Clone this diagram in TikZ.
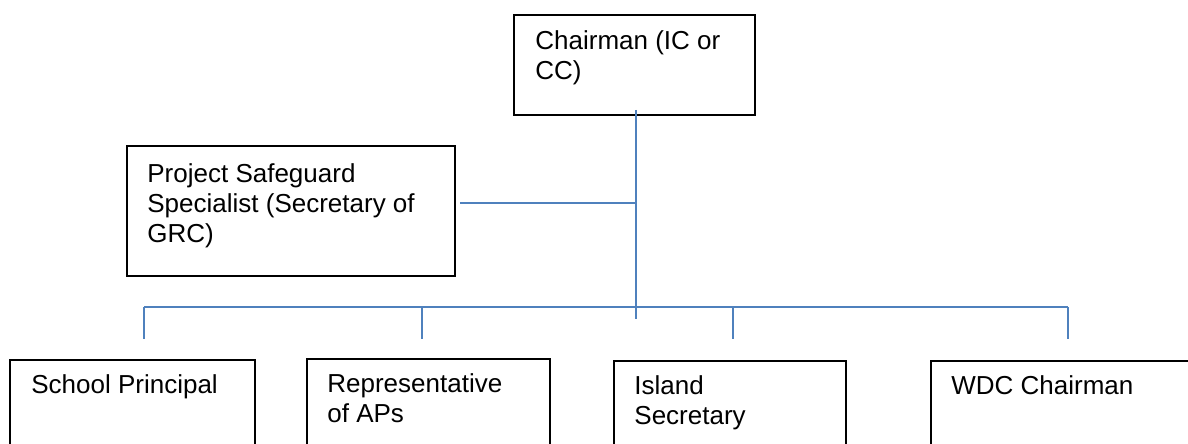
\documentclass[tikz,border=0pt]{standalone}
\usepackage{fontspec}
\setmainfont{Liberation Sans}
\usetikzlibrary{positioning}
\definecolor{linkblue}{RGB}{79,129,189}

\begin{document}
\begin{tikzpicture}[x=0.5pt,y=-0.5pt]
\tikzset{orgbox/.style={draw=black, line width=1pt, anchor=north west, inner sep=0pt},
         orgtext/.style={anchor=base west, align=left, inner sep=0pt,
                         font=\fontsize{13}{15}\selectfont},
         orgline/.style={draw=linkblue, line width=0.75pt}}
\useasboundingbox (0,0) rectangle (1188,444);

% boxes
\node[orgbox, minimum width=120.5pt, minimum height=50pt] (chair) at (513,14) {};
\node[orgbox, minimum width=164pt, minimum height=65pt] (proj) at (126,145) {};
\node[orgbox, minimum width=122.5pt, minimum height=60pt] (school) at (9,359) {};
\node[orgbox, minimum width=121.5pt, minimum height=60pt] (rep) at (306,358) {};
\node[orgbox, minimum width=116pt, minimum height=60pt] (island) at (613,360) {};
\node[orgbox, minimum width=150pt, minimum height=60pt] (wdc) at (930,360) {};

% texts (base = last line)
\node[orgtext] (chair-t) at ([shift={(22,66)}]chair.north west) {Chairman (IC or\\CC)};
\node[orgtext] (proj-t) at ([shift={(21,97)}]proj.north west) {Project Safeguard\\Specialist (Secretary of\\GRC)};
\node[orgtext] (school-t) at ([shift={(22,34)}]school.north west) {School Principal};
\node[orgtext] (rep-t) at ([shift={(21,64)}]rep.north west) {Representative\\of APs};
\node[orgtext] (island-t) at ([shift={(21,64)}]island.north west) {Island\\Secretary};
\node[orgtext] (wdc-t) at ([shift={(21,34)}]wdc.north west) {WDC Chairman};

% connectors
\coordinate (hub) at (636,319);
\coordinate (tee) at (636,203);
\draw[orgline] ([yshift=3pt]chair.south -| hub) -- (hub);
\draw[orgline] ([xshift=2pt]proj.east |- tee) -- (tee);
\foreach \x/\n in {144/1,422/2,733/3,1068/4}{
  \coordinate (top\n) at (\x,307);
  \coordinate (drop\n) at (\x,339);
  \draw[orgline] (top\n) -- (drop\n);
}
\draw[orgline] (top1) -- (top4);
\end{tikzpicture}
\end{document}
